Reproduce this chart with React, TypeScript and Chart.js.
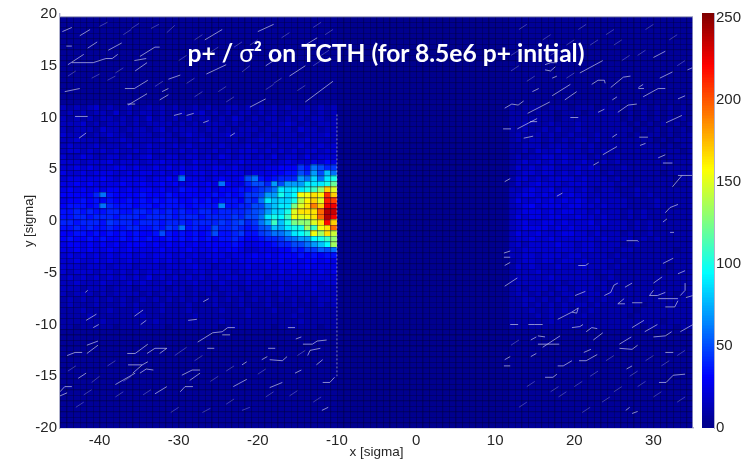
import React, { useEffect, useRef } from "react";
import { Chart, registerables } from "chart.js";

Chart.register(...registerables);

const X_MIN = -45, X_MAX = 35, Y_MIN = -20, Y_MAX = 20;
const COLS = 96, ROWS = 75, BIN_X = 80 / 96, BIN_Y = 0.53;
const COLOR_MAX = 253;
const xTickValues = [-40, -30, -20, -10, 0, 10, 20, 30];

// background levels of the zones nobody resolved by eye
const outerLevel = 6;
const gapLevel = 1;
const GAP_FIRST_COL = 42, RIGHT_FIRST_COL = 68;

// left zone: one char per cell, base 36, times 5. First string is row 58, going down.
const LEFT_TOP_ROW = 58;
const leftRows = [
  "323234232232232323223232233232323232232323",
  "232323324232332322323423232332323223332323",
  "323232332323242323232332324323233232323323",
  "333423233323233332323233323232323343232333",
  "323332433233323423333233232333233332433233",
  "433323343323332332343323343332332333233343",
  "334333233433333433233433333233433333343333",
  "343334333343343334343333433343334333433434",
  "344343434334343433434334343444343434344344",
  "433543344343453344344343543443435344353444",
  "444344453444344544435444344544443454445465",
  "445454445545445454545445545445544554565575",
  "544545554454554545645545455545455655566786",
  "455555654555545565c55545655656556565686776",
  "556565555655655656556565c65566756675777887",
  "565656566565665655766565666756676777787898",
  "666668c76666766676666667676767778788979a9a",
  "566767676676767677667676777677878889898a9a",
  "677767c87776776777767777d778787889998a9aab",
  "778787788778878787877887888898899a99aaabab",
  "778878887888788887888788889899a9a9aab9abac",
  "887888798887888788878888989a99aa9aabaabbbc",
  "778787787788778798c7877a88989a89a9abaabbab",
  "667767676767667a7676767a77898989a9a9aaaabb",
  "676676766767676676767676778788989989a9a9aa",
  "566565656566656565656566667677878878989899",
  "556565565565555655565556566566767767878788",
  "454545454554545554545455545556565666767677",
  "445445454454445454454445454555555656566565",
  "444344434443444344445443444454454555565555",
  "434443443434344443434434443444444545454545",
  "343434343434353434343434344344434444444444",
  "334333433343433343334333433343343434434344",
  "333233323332333323323332333233333433334333",
  "323332323333232333323233233323332333333333",
  "232323232322323232323223232323232323232333",
  "232223222323222322232223222322232223222323",
  "222322232223222322232222322232223222322222",
  "222232222222322222223222222232222223222222",
  "222222322222223222222222322222222222322222",
  "221222221222222212222222122222221222222122",
];

// right zone, same coding. First string is row 58, going down.
const RIGHT_TOP_ROW = 58;
const rightRows = [
  "2122212221222122212121212121",
  "2221222122212222212121212121",
  "2222222122222222212121212121",
  "2232223222322222221212121212",
  "2232232322322222222121212121",
  "2322323223222322221212212122",
  "2323323232332322222222121222",
  "2233323332323222222222212122",
  "2232433433323232222222222212",
  "2323344343332322322222212222",
  "2343434343343232322222222222",
  "2434344333434322232222222222",
  "2344344343433323222222212222",
  "2443434444343332322222222122",
  "2434544434443333232222222122",
  "3345445344343233222322222222",
  "3455454445443333322323222222",
  "3544545454543433332222322222",
  "3456455545544343332222322222",
  "3455545455443433323232222222",
  "3545545544544343323232222222",
  "3454455454445343332323222222",
  "3455554545444433332323222222",
  "3544544455443433323223222222",
  "3445445444444343333232322222",
  "3434444544344333322322222222",
  "3344444444344333233222222122",
  "3344344434433332322222222222",
  "2344344344343333232222222222",
  "2434333433343332322222221222",
  "2333433333333233222222212222",
  "2333334333333223222222222222",
  "2333333323333332322222222222",
  "2323332332333232222222222222",
  "2332323233233323222222222122",
  "2233232323223232222222222222",
  "2232323232332322222212222222",
  "2223223232223222222122222222",
  "2222323222232222221222222222",
  "2222223222222222222222212222",
  "2222222222222222222212222122",
];

// hottest block: values by row, right-to-left from the cut at x = -10. First is row 47.
const HOT_TOP_ROW = 47;
const HOT_RIGHT_COL = 41;
const hotRows = [
  [45, 40, 50, 60, 35, 45, 30, 30, 30, 25, 25, 20, 20, 20],
  [60, 80, 50, 70, 40, 50, 35, 35, 30, 30, 25, 25, 25, 20],
  [100, 90, 60, 85, 60, 70, 40, 40, 40, 35, 30, 35, 60, 50],
  [120, 100, 90, 90, 90, 70, 70, 70, 50, 70, 40, 50, 50, 40],
  [150, 170, 130, 110, 100, 90, 90, 85, 90, 60, 50, 45, 40, 35],
  [170, 210, 160, 165, 155, 155, 95, 85, 100, 70, 70, 50, 45, 45],
  [205, 215, 150, 170, 160, 140, 100, 85, 85, 80, 90, 60, 40, 45],
  [225, 225, 170, 190, 165, 150, 125, 90, 90, 80, 70, 50, 50, 40],
  [235, 240, 195, 165, 165, 165, 150, 100, 85, 85, 70, 55, 50, 45],
  [225, 240, 195, 165, 155, 150, 155, 110, 95, 100, 90, 60, 50, 50],
  [170, 220, 165, 150, 130, 130, 125, 100, 80, 110, 75, 60, 45, 40],
  [195, 165, 155, 110, 135, 100, 100, 90, 75, 80, 55, 50, 40, 35],
  [145, 165, 135, 155, 105, 95, 90, 70, 60, 60, 50, 45, 35, 35],
  [130, 110, 100, 95, 70, 70, 60, 55, 45, 40, 40, 35, 30, 30],
  [135, 95, 80, 70, 60, 50, 50, 40, 40, 35, 30, 30, 25, 25],
  [60, 50, 55, 45, 45, 35, 40, 30, 30, 25, 25, 25, 20, 20],
];

// bright streaks, each a polyline x,y,x,y... in sigma
const brightStreaks = [
  [-44.7,18.3,-43.5,18.7],[-42.5,17.9,-41.2,18.5],[-41.5,16.7,-40.3,17.3],[-44.2,16.9,-43.5,16.9],
  [-44,15.1,-42,16.1],[-43.5,15.3,-40.8,15.3],[-40.8,15.3,-39.2,15.7,-38.4,15.7,-37.7,16.1],
  [-38.9,16.5,-37.2,17.2],[-35.6,15.5,-34.1,15.7],[-35.5,14.5,-34,15.3],[-34.9,15.9,-33,16.8,-32.4,16.8],
  [-44.4,12.5,-42.5,12.8],[-36.8,12.8,-35.6,12.8,-33.9,13.6],[-36.4,11.2,-34,12.3],[-36.5,11.3,-35.5,11.3],
  [-32.4,11.7,-31.3,12.2],[-32.1,12.5,-31.3,12.8],[-31.3,13.7,-29.8,14.1],[-43.1,10.1,-41.5,10.1],
  [-30.6,10.2,-29.6,10.4],[-29,10.2,-28.1,10.4],[-26.7,17.5,-24.5,18.5],[-20,18.3,-18,19],
  [-26.5,14.2,-24,15.1],[-14,11.5,-10.5,13.5],[-19,15,-17,16],[-21,11,-19,11.8],[-14,17,-12.5,17.7],[-16,14,-14,15],
  [-42.6,8,-41.7,8.5],[-26.9,9.5,-26.2,9.7],[-23.5,8.2,-22.9,8.5],
  [-41.7,-9.6,-40.4,-9],[-35.6,-9.2,-34.5,-8.6],[-34.8,-10,-34.1,-9.6],[-40.8,-10.3,-40.1,-10],
  [-28.8,-9.6,-27.7,-9.5],[-26.9,-7.8,-26.2,-7.5],[-41.8,-6.9,-41.5,-6.7],
  [-44.1,-13,-43.1,-12.7,-42.2,-12.7],[-41.6,-12,-40.2,-11.6],[-41.6,-12.8,-40.2,-12],
  [-36.5,-12.8,-35.5,-12.8,-33.9,-11.9],[-34,-12.8,-33,-12.3,-31.5,-12.3,-32.4,-12.8],
  [-36.4,-13.9,-34.6,-13.9,-33.9,-13.6],[-35.8,-14.7,-34.6,-13.9],[-34.9,-14.7,-34.1,-14.3,-33.2,-14.4],
  [-38,-15.8,-35.5,-14.7],[-45,-16.5,-44.4,-16,-43.5,-16],[-45,-16.9,-44.1,-16.6],[-42.7,-15.2,-41.7,-14.7],
  [-33,-16.7,-31.5,-16],[-29.8,-16.5,-29.2,-16,-28.2,-16],[-29.6,-14.9,-28.3,-14.4,-27.3,-14.4],
  [-28.6,-15.4,-27.3,-14.7],[-27.6,-11.7,-25.7,-10.8,-24.5,-10.7,-23.8,-10.3,-22.9,-10.3],
  [-24.5,-11,-23.5,-11],[-26.4,-12.3,-25.5,-12.3],[-18.7,-12.3,-17.8,-12.3],[-18.5,-13.4,-16.9,-13.5,-16.3,-13.1],
  [-22,-13.9,-21.4,-13.6],[-19.5,-13.4,-18.8,-13.1],[-23.1,-16,-21.4,-15.3],[-18.5,-16.1,-16.9,-15.6],
  [-15.3,-14.7,-14.5,-14.4],[-14.3,-11.9,-13.1,-11.9,-12.5,-11.6,-11.3,-11.5],[-13.7,-13,-13.4,-12.5,-12.1,-12.3],
  [-12.6,-13.9,-11.8,-13.4],[-11.8,-15.6,-10.9,-15.6,-10.3,-15.1],[-15.2,-11.4,-14.5,-11.2],[-16.2,-10.3,-15.3,-10.3],
  [-11.9,-18.3,-11.1,-18],
  [16.3,15.1,17,15.3,17.8,15.3],[16.3,14.6,17,14.5,17.6,14.9],[17.2,13.8,17.8,14],[14.7,12.5,15.5,12.8],
  [17.2,12.1,19.5,13.2],[18.8,11.7,20.3,12.5],[20.7,14.3,23.6,15.5],[22.2,13.2,23,13.6,23.8,13.6,23.9,13.3],
  [24.6,12.9,26.2,13.9,27.1,14],[28.1,12.9,28.7,13.2],[28.1,12.8,28.8,12.8],[28.7,12,30.6,12.8,31.5,12.8],
  [30.8,13.8,32.4,14.4],[11.2,10.9,12.1,11.3,12.9,11.2,13.6,11.6],[14.1,10.4,16.9,11.5],[23,10.5,23.8,10.8],
  [25.5,10.5,26.8,11.2,27.9,11.3],[24.8,11.7,25.4,12],[19.5,10,20.5,10],[12.8,8.9,15.3,9.9],[14.4,9.6,15.3,9.6],
  [11,8.9,12,8.9],[13.6,8,14.8,8.2],[24.8,8.1,25.4,8.4],[28.2,8.1,29.3,8.1],[28.3,7.3,29,7.5],[23.6,6.4,25.4,7.2],
  [30.6,6.1,31.5,6.4],[31.2,5.6,32.4,5.6],[22.4,5.4,23.1,5.7],[31.6,9.5,33.6,10.2],[33.1,4.4,34.9,4.4],[32.4,3.3,33.6,4.4],
  [33.1,11.8,34,12.1],[11.2,3.8,11.9,4.1],[17.8,2.4,18.5,2.7],[31.5,0.8,32.1,1.3,33.1,1.6],[31.2,-0.1,31.7,0.2],
  [26.6,-1.9,28,-1.9,28.1,-2],[32.1,-1.1,32.6,-1.1],[11.1,-3.1,11.9,-2.9],[11.1,-3.5,11.9,-3.5],[11.2,-4.3,11.9,-4],
  [20.5,-4.3,21.4,-4.3,21.8,-4.1],[31.2,-4.1,32.5,-3.6],[33.1,-5.1,34,-4.8],[30,-6,31.1,-5.4],[11.2,-6.3,12.8,-5.5],
  [26.4,-6.4,27.3,-6],[23.8,-7.2,24.6,-6.9,25,-6.2,25.5,-6],[20.1,-7.2,21.4,-6.8],[25.5,-8,26.3,-7.5],[25.5,-8,26.4,-8],
  [27.3,-7.9,28.6,-7.9],[29.5,-7.2,30,-6.7],[29.5,-7.2,30.5,-7.2,31.5,-6.9],[30.6,-7.5,33.1,-7.5],
  [31.5,-8.3,32.7,-8.3,33.1,-7.7],[33.4,-7.2,34,-6.7,34,-6],[34.1,-7.4,35,-7.2],
  [17.9,-9.5,19.7,-8.8,20.5,-8.4,20.3,-8.9,19.7,-8.8],[11.9,-10,12.9,-10],[14.2,-10,15,-10,16,-10],
  [19.7,-10.3,20.7,-10.2,21.1,-10],[21.5,-10.7,22.2,-10.3,22.9,-10.4],[27.3,-10.3,28.8,-9.6],[28.9,-10.7,30.5,-10],
  [30,-11.2,31.5,-11.1,32.3,-10.7],[33.4,-10.7,35,-10],[15.4,-11.1,16.3,-11.2],[14.5,-11.5,15.2,-11.2],
  [16,-12.2,18.2,-11.1],[15.4,-11.9,18.1,-11.9],[22.4,-11.5,23.6,-10.8],[25.7,-11.9,27.2,-11.2],
  [25.7,-12.3,27.3,-12.4,28,-12],[14.5,-13.1,15.2,-12.8],[21.2,-12.7,22.1,-12.4],[20.6,-13.5,21.5,-13.5,22.9,-12.9],
  [11.2,-13.4,11.9,-13.1],[11.1,-14,11.9,-14],[17.9,-14,18.6,-14,19.7,-13.5],[16.3,-15.1,17.3,-15.1,17.8,-14.8],
  [26.6,-14.3,27.3,-14],[31.5,-12.7,32.5,-12.7],[30.7,-15.6,31.6,-15.6,32.5,-14.9,34,-14.8],
  [26.5,-18.3,27,-18],[27.3,-18.6,28,-18.4],[30,15.8,31.5,16.4],[34.3,14.6,34.9,14.8],
];

// short faint streaks
const faintStreaks = [
  [-40,18.8,-39,19.2],[-36,18.6,-35,19.1],[-31.5,18.2,-30.5,18.9],[-38,14.3,-37,14.8],[-33,13,-32,13.5],
  [-39,13.6,-38,14],[-28,17.5,-27,18],[-30,15.5,-29,16],[-25,12.5,-24,13],[-22,14.4,-21,15],[-23,16.8,-22,17.3],
  [-18,13.3,-17,13.8],[-12,16,-11,16.5],[-13,18.7,-12,19.2],[-17,17.7,-16,18.2],[-28,12,-27,12.5],
  [-44,14,-43,14.5],[-41,13.8,-40,14.2],[-37,18,-36,18.5],[-33.5,18.6,-32.5,19],[-29,13.3,-28,13.8],[-26,16.3,-25,16.8],
  [-21,17,-20,17.5],[-19,12.7,-18,13.2],[-15,12.6,-14,13.1],[-13,15,-12,15.5],[-24,11.5,-23,12],[-11.5,18,-10.5,18.5],
  [-44,-14.5,-43,-14],[-41,-15.6,-40,-15],[-39,-14,-38,-13.5],[-43,-18,-42,-17.5],[-31,-18.5,-30,-18],
  [-26,-15.5,-25,-15],[-24,-17.7,-23,-17.2],[-20,-14.8,-19,-14.3],[-16,-16.9,-15,-16.4],[-13,-17.5,-12,-17],
  [-27,-18.5,-26,-18.1],[-22,-18.3,-21,-18],[-38,-17,-37,-16.5],[-34.5,-16.8,-33.5,-16.3],[-30.5,-13,-29,-12.2],
  [-42,-16.8,-41,-16.3],[-37,-15.5,-36,-15],[-28,-13.5,-27,-13],[-24,-14.5,-23,-14],[-19,-17,-18,-16.5],[-15,-13,-14,-12.5],
  [14,-16,15,-15.5],[18,-17,19,-16.5],[22,-15,23,-14.5],[25,-16.5,26,-16],[30,-17,31,-16.5],[33,-17.5,34,-17],
  [13,-18,14,-17.5],[21,-18.5,22,-18],[14,13.5,15,14],[12,16,13,16.5],[16,17.5,17,18],[19,17,20,17.5],
  [24,18,25,18.5],[28,16,29,16.5],[32,17.5,33,18],[26,15.5,27,16],[12,14.5,13,15],[22,17,23,17.5],
  [20,-16,21,-15.5],[28,-16,29,-15.5],[24,-13.5,25,-13],[29,-13.5,30,-13],[33,-13,34,-12.5],
  [12,-12,13,-11.5],[17,-16.5,18,-16],[23.5,-17.5,24.5,-17],[27,-15,28,-14.5],[31,-14,32,-13.5],[19,13.8,20,14.3],
  [13,18.5,14,19],[20.5,18.5,21.5,19],[29,18.5,30,19],[33,15,34,15.5],[17,16,18,16.5],[25,17,26,17.5],
];

const cutEdgeY = [10.3, -15];

function jet(v: number): string {
  const t = Math.max(0, Math.min(1, v / COLOR_MAX));
  const ch = (k: number) => Math.round(255 * Math.max(0, Math.min(1, 1.5 - Math.abs(4 * t - k))));
  return `rgb(${ch(3)},${ch(2)},${Math.max(ch(1), t < 0.1 ? 143 : 0)})`;
}

function cellValue(r: number, c: number): number {
  if (c >= GAP_FIRST_COL && c < RIGHT_FIRST_COL) return gapLevel;
  const hot = hotRows[HOT_TOP_ROW - r];
  if (hot && c <= HOT_RIGHT_COL && c > HOT_RIGHT_COL - hot.length) return hot[HOT_RIGHT_COL - c];
  const line = c < GAP_FIRST_COL ? leftRows[LEFT_TOP_ROW - r] : rightRows[RIGHT_TOP_ROW - r];
  const ch = line ? line[c < GAP_FIRST_COL ? c : c - RIGHT_FIRST_COL] : undefined;
  return ch ? parseInt(ch, 36) * 5 : outerLevel;
}

const tileCache = new Map<string, HTMLCanvasElement>();
function tile(w: number, h: number, color: string, edge: boolean): HTMLCanvasElement {
  const key = `${w}-${h}-${color}`;
  let cv = tileCache.get(key);
  if (!cv) {
    cv = document.createElement("canvas");
    cv.width = w;
    cv.height = h;
    const g = cv.getContext("2d")!;
    g.fillStyle = color;
    g.fillRect(0, 0, w, h);
    if (edge) {
      g.fillStyle = "rgba(0,0,50,0.4)";
      g.fillRect(0, 0, w, 1);
      g.fillRect(0, 0, 1, h);
    }
    tileCache.set(key, cv);
  }
  return cv;
}

function polylines(list: number[][]) {
  const pts: { x: number; y: number }[] = [];
  for (const p of list) {
    for (let i = 0; i < p.length; i += 2) pts.push({ x: p[i], y: p[i + 1] });
    pts.push({ x: NaN, y: NaN });
  }
  return pts;
}

const FONT = "'Liberation Sans', Arial, sans-serif";
const FRAME = "#aeb0cc";
const INK = "#262626";

export default function App() {
  const mainRef = useRef<HTMLCanvasElement>(null);
  const barRef = useRef<HTMLCanvasElement>(null);

  useEffect(() => {
    const cells: { x: number; y: number }[] = [];
    const styles: HTMLCanvasElement[] = [];
    for (let r = ROWS - 1; r >= 0; r--) {
      for (let c = 0; c < COLS; c++) {
        cells.push({ x: X_MIN + (c + 0.5) * BIN_X, y: Y_MIN + (r + 0.5) * BIN_Y });
        styles.push(tile(7, 6, jet(cellValue(r, c)), true));
      }
    }
    const topEdge = Y_MIN + ROWS * BIN_Y;

    const main = new Chart(mainRef.current!, {
      type: "scatter",
      data: {
        datasets: [
          {
            label: "frame",
            data: [{ x: X_MIN, y: topEdge }, { x: X_MAX, y: topEdge }, { x: X_MAX, y: Y_MIN }],
            showLine: true, borderColor: FRAME, borderWidth: 1.4, pointRadius: 0, order: 0,
          },
          {
            label: "bright streaks",
            data: polylines(brightStreaks),
            showLine: true, borderColor: "rgba(200,200,235,0.72)", borderWidth: 0.95, pointRadius: 0, order: 1,
          },
          {
            label: "faint streaks",
            data: polylines(faintStreaks),
            showLine: true, borderColor: "rgba(165,165,225,0.45)", borderWidth: 0.85, pointRadius: 0, order: 2,
          },
          {
            label: "cut edge",
            data: cutEdgeY.map((y) => ({ x: -10, y })),
            showLine: true, borderColor: "rgba(190,190,235,0.65)", borderWidth: 1, borderDash: [2, 2], pointRadius: 0, order: 1,
          },
          {
            label: "p+ / sigma^2",
            data: cells,
            pointStyle: styles as any,
            pointRadius: 3,
            showLine: false,
            order: 5,
          },
        ],
      },
      options: {
        animation: false,
        responsive: false,
        events: [],
        layout: { padding: { left: 0, top: 14, right: 54, bottom: 0 } },
        plugins: { legend: { display: false }, tooltip: { enabled: false }, title: { display: false } },
        scales: {
          x: {
            type: "linear", min: X_MIN, max: X_MAX,
            afterFit: (s: any) => { s.height = 33; },
            afterBuildTicks: (s: any) => { s.ticks = xTickValues.map((value) => ({ value })); },
            grid: { drawOnChartArea: false, drawTicks: false },
            border: { color: FRAME, width: 1.4 },
            ticks: { color: INK, font: { family: FONT, size: 15 }, padding: 4, maxRotation: 0, autoSkip: false },
            title: { display: true, text: "x [sigma]", color: INK, font: { family: FONT, size: 13.5 }, padding: { top: 0, bottom: 1 } },
          },
          y: {
            type: "linear", min: Y_MIN, max: Y_MAX,
            afterFit: (s: any) => { s.width = 60; },
            grid: { drawOnChartArea: false, drawTicks: false },
            border: { color: FRAME, width: 1.4 },
            ticks: { stepSize: 5, color: INK, font: { family: FONT, size: 15 }, padding: 3 },
            title: { display: true, text: "y [sigma]", color: INK, font: { family: FONT, size: 13 }, padding: { top: 22, bottom: 0 } },
          },
        },
      },
    } as any);

    const levels = Array.from({ length: COLOR_MAX + 1 }, (_, i) => i);
    const bar = new Chart(barRef.current!, {
      type: "scatter",
      data: {
        datasets: [
          {
            label: "colorbar",
            data: levels.map((y) => ({ x: 0, y })),
            pointStyle: levels.map((v) => tile(12, 3, jet(v), false)) as any,
            pointRadius: 3,
            showLine: false,
          },
        ],
      },
      options: {
        animation: false,
        responsive: false,
        events: [],
        layout: { padding: { left: 12, top: 13, right: 0, bottom: 33 } },
        plugins: { legend: { display: false }, tooltip: { enabled: false } },
        scales: {
          x: { type: "linear", display: false, min: -1, max: 1 },
          y: {
            type: "linear", position: "right", min: 0, max: COLOR_MAX,
            afterFit: (s: any) => { s.width = 33; },
            afterBuildTicks: (s: any) => { s.ticks = [0, 50, 100, 150, 200, 250].map((value) => ({ value })); },
            grid: { drawOnChartArea: false, drawTicks: false },
            border: { color: FRAME, width: 1 },
            ticks: { color: INK, font: { family: FONT, size: 15 }, padding: 2 },
          },
        },
      },
    } as any);

    return () => {
      main.destroy();
      bar.destroy();
    };
  }, []);

  return (
    <div style={{ position: "absolute", left: 0, top: 0, width: 747, height: 461, background: "#fff", overflow: "hidden" }}>
      <canvas ref={mainRef} width={747} height={461} style={{ position: "absolute", left: 0, top: 0, filter: "blur(0.4px)" }} />
      <canvas ref={barRef} width={57} height={461} style={{ position: "absolute", left: 690, top: 0, filter: "blur(0.35px)" }} />
      <div
        style={{
          position: "absolute", left: 0, width: 772, top: 38, textAlign: "center", whiteSpace: "nowrap",
          color: "#fff", fontFamily: "Lato, 'Open Sans', sans-serif", fontWeight: 700, fontSize: 24.6, lineHeight: "30px",
        }}
      >
        p+ / <span style={{ fontWeight: 400 }}>σ</span>² on TCTH (for 8.5e6 p+ initial)
      </div>
    </div>
  );
}
